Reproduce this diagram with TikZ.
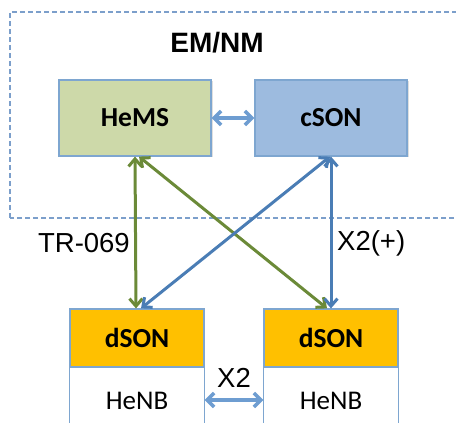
\documentclass[tikz,border=0pt]{standalone}
\usepackage{fontspec}
\setmainfont{Carlito}
\newfontfamily\arialfont{Liberation Sans}
\usetikzlibrary{arrows.meta,calc,shadows}
\definecolor{hemsfill}{HTML}{CDD9A9}
\definecolor{csonfill}{HTML}{9DBBDF}
\definecolor{dsonfill}{HTML}{FFC000}
\definecolor{boxline}{HTML}{7EA6D0}
\definecolor{dashline}{HTML}{7C9FCB}
\definecolor{grn}{HTML}{6B8A38}
\definecolor{blu}{HTML}{4A7DB5}
\definecolor{lblu}{HTML}{6E9DD1}
\begin{document}
\begin{tikzpicture}[x=1pt,y=1pt,
  boxst/.style={draw=boxline,line width=1.2pt,minimum width=152pt,minimum height=76pt,inner sep=0pt,font=\fontsize{27.5}{30}\selectfont\bfseries,drop shadow={shadow xshift=1.5pt,shadow yshift=-1.5pt,opacity=0.25}},
  dsonst/.style={draw=boxline,line width=1.2pt,fill=dsonfill,minimum width=134pt,minimum height=58pt,inner sep=0pt,font=\fontsize{27.5}{30}\selectfont\bfseries},
  lbl/.style={font=\arialfont\fontsize{27.5}{30}\selectfont,inner sep=0pt},
  txt/.style={font=\fontsize{27}{30}\selectfont,inner sep=0pt},
  conn/.style={line width=3pt,{Straight Barb[length=7.5pt,width=13pt,line width=3pt]}-{Straight Barb[length=7.5pt,width=13pt,line width=3pt]}},
  hconn/.style={line width=3.5pt,draw=lblu,{Straight Barb[length=7pt,width=14pt,line width=3.5pt]}-{Straight Barb[length=7pt,width=14pt,line width=3.5pt]}}
]
\useasboundingbox (0,0) rectangle (456,423);
\clip (0,0) rectangle (456,423);
% dashed EM/NM region
\draw[dashline,line width=1.2pt,dash pattern=on 5pt off 3pt] (10,205) rectangle (470,411);
\node[font=\arialfont\fontsize{28}{30}\selectfont\bfseries,inner sep=0pt] (emnm) at (217,380) {EM/NM};
% top boxes
\node[boxst,fill=hemsfill] (hems) at (135,305) {HeMS};
\node[boxst,fill=csonfill] (cson) at (331,305) {cSON};
% bottom boxes
\node[dsonst] (dsonl) at (137,85) {dSON};
\node[dsonst] (dsonr) at (331,85) {dSON};
\draw[boxline,line width=1.2pt] (dsonl.south west) -- ++(0,-70) (dsonl.south east) -- ++(0,-70);
\draw[boxline,line width=1.2pt] (dsonr.south west) -- ++(0,-70) (dsonr.south east) -- ++(0,-70);
\node[txt] (henbl) at (137,22) {HeNB};
\node[txt] (henbr) at (331,22) {HeNB};
% connectors
\draw[hconn] (hems.east) -- (cson.west);
\draw[conn,grn] ($(hems.south)+(0,0)$) -- ($(dsonl.north)+(-1,0)$);
\draw[conn,grn] ($(hems.south)+(4,0)$) -- ($(dsonr.north)+(-4,0)$);
\draw[conn,blu] ($(cson.south)+(-1,0)$) -- ($(dsonl.north)+(4,0)$);
\draw[conn,blu] ($(cson.south)+(0,0)$) -- ($(dsonr.north)+(0,0)$);
\coordinate (xl) at (dsonl.south east |- 0,23);
\coordinate (xr) at (dsonr.south west |- 0,23);
\draw[hconn] (xl) -- (xr);
% labels
\node[lbl,anchor=east] (tr) at (130,180) {TR-069};
\node[lbl,anchor=west] (x2p) at (337,180) {X2(+)};
\node[lbl] (x2) at (234,45) {X2};
\end{tikzpicture}
\end{document}
